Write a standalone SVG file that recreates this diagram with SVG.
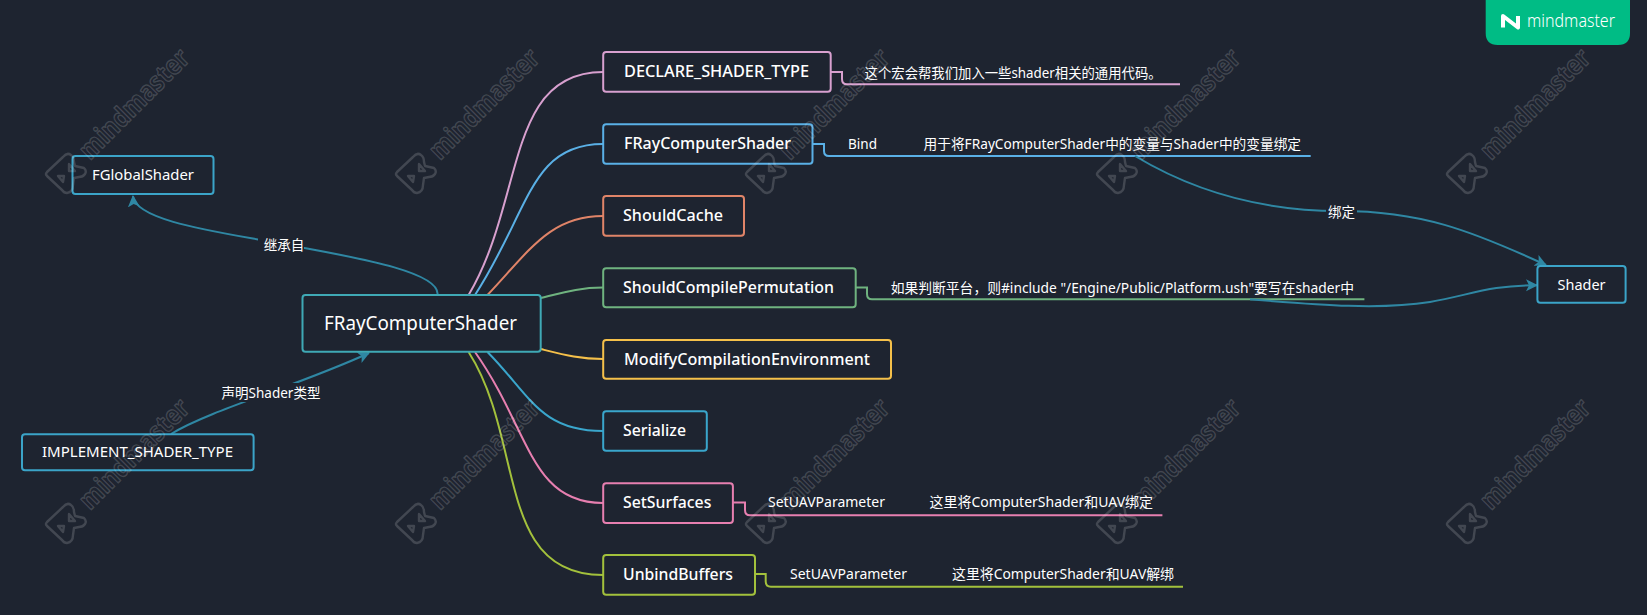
<svg xmlns="http://www.w3.org/2000/svg" width="1647" height="615" viewBox="0 0 1647 615">
<style>
text{font-family:"Noto Sans","Noto Sans CJK SC",sans-serif;fill:#fff;}
.n{fill:none;stroke-width:2}
.bl{font-size:16px;font-weight:500}
.main{font-size:20px}
.side{font-size:14px}
.sub{font-size:14px}
.lab{font-size:13.5px;text-anchor:middle}
.e{fill:none;stroke:#2f87a3;stroke-width:2}
.b{fill:none;stroke-width:2}
.wm text{font-size:27px;fill:none;stroke:#fff;stroke-width:1.5;stroke-opacity:.16;font-family:"Noto Sans",sans-serif;font-weight:700;stroke-linejoin:round}
.wm path{fill:none;stroke:#fff;stroke-width:2.400;stroke-opacity:.16;stroke-linejoin:round}
</style>
<defs>
<marker id="arr" markerUnits="userSpaceOnUse" markerWidth="14" markerHeight="14" refX="11" refY="6" orient="auto"><path d="M0 0L12 6L0 12L3 6Z" fill="#2f87a3"/></marker>
<g id="mark" class="wm">
<path d="M1 20 L17 5 Q21 0 25 3 Q28 5 28 10 L29 14 L38 16 Q41 19 39 22 Q37 25 33 25 L28 26 L27 33 Q27 40 21 41 Q18 41 16 38 L1 24 Q-1 22 1 20 Z"/>
<path d="M23 12L29 19L23 19Z M12 24L18 24L17 30Z"/>
<text transform="translate(44,9) rotate(-45)" textLength="143" lengthAdjust="spacingAndGlyphs">mindmaster</text>
</g>
</defs>
<rect width="1647" height="615" fill="#1e2430"/>
<g id="connectors">
<path class="b" stroke="#d8a0cf" d="M468.600 295C525 200 505 72 603 72"/>
<path class="b" stroke="#5ab0e6" d="M475 295C530 210 530 144 603 144"/>
<path class="b" stroke="#e08468" d="M487.500 295C530 250 550 216 603 216"/>
<path class="b" stroke="#6fb37f" d="M540.700 298C565 292 580 287.500 603 287.500"/>
<path class="b" stroke="#f5c04a" d="M540.700 349C565 355 580 359 603 359"/>
<path class="b" stroke="#3aa6cc" d="M487.500 352C530 395 540 431 603 431"/>
<path class="b" stroke="#e77fb0" d="M475 352C530 430 530 503 603 503"/>
<path class="b" stroke="#a3c13c" d="M468.600 352C525 440 495 575 603 575"/>
<path class="b" stroke="#d8a0cf" d="M830.700 72H842V79Q842 84.300 847 84.300H1180"/>
<path class="b" stroke="#5ab0e6" d="M812.500 144H824V151Q824 156 829 156H1310.700"/>
<path class="b" stroke="#6fb37f" d="M855.700 287.500H867V294Q867 299.300 872 299.300H1364.400"/>
<path class="b" stroke="#e77fb0" d="M733 502.500H745V510Q745 515.300 750 515.300H1162.400"/>
<path class="b" stroke="#a3c13c" d="M755 574H765.700V581.500Q765.700 586.700 771 586.700H1183"/>
<path class="e" marker-end="url(#arr)" d="M437.500 295C441 270 340 255 283 244C226 233 135 222 133 196"/>
<path class="e" marker-end="url(#arr)" d="M171 434C210 410 300 385 369 353"/>
<path class="e" marker-end="url(#arr)" d="M1135 156C1200 195 1270 211 1340 211C1420 211 1470 230 1546 265"/>
<path class="e" marker-end="url(#arr)" d="M1250 299.300C1320 305 1380 310 1430 302C1470 295 1490 285 1537 285.300"/>
</g>
<g id="edge-labels">
<rect x="258" y="236" width="46" height="18" fill="#1e2430"/><text class="lab" x="284" y="250">继承自</text>
<rect x="221" y="383" width="100" height="19" fill="#1e2430"/><text class="lab" x="271" y="398">声明Shader类型</text>
<rect x="1326" y="202" width="31" height="18" fill="#1e2430"/><text class="lab" x="1341.500" y="217">绑定</text>
</g>
<g id="n-root"><rect class="n" x="302.500" y="295" width="238.200" height="56.700" rx="3" stroke="#3fa9b5"/><text class="main" x="324" y="330" textLength="193" lengthAdjust="spacingAndGlyphs">FRayComputerShader</text></g>
<g id="n-global"><rect class="n" x="72.500" y="156" width="141" height="38" rx="3" stroke="#3ba4c8"/><text class="side" x="92" y="180" textLength="102" lengthAdjust="spacingAndGlyphs">FGlobalShader</text></g>
<g id="n-impl"><rect class="n" x="22" y="434.300" width="231.600" height="36" rx="3" stroke="#3ba4c8"/><text class="side" x="42" y="457" textLength="191" lengthAdjust="spacingAndGlyphs">IMPLEMENT_SHADER_TYPE</text></g>
<g id="n-shader"><rect class="n" x="1537.400" y="266" width="88.200" height="36.700" rx="3" stroke="#3ba4c8"/><text class="side" x="1557.600" y="290" textLength="48" lengthAdjust="spacingAndGlyphs">Shader</text></g>
<g id="n-declare"><rect class="n" x="603.200" y="52" width="227.500" height="39.700" rx="3" stroke="#d8a0cf"/><text class="bl" x="624" y="77.300" textLength="185" lengthAdjust="spacingAndGlyphs">DECLARE_SHADER_TYPE</text></g>
<g id="n-fray"><rect class="n" x="603.200" y="124.300" width="209.300" height="39.400" rx="3" stroke="#5ab0e6"/><text class="bl" x="624" y="149" textLength="167" lengthAdjust="spacingAndGlyphs">FRayComputerShader</text></g>
<g id="n-cache"><rect class="n" x="603.200" y="196" width="140.800" height="39.700" rx="3" stroke="#e08468"/><text class="bl" x="623" y="221.300" textLength="100" lengthAdjust="spacingAndGlyphs">ShouldCache</text></g>
<g id="n-compile"><rect class="n" x="603.200" y="268.300" width="252.500" height="39" rx="3" stroke="#6fb37f"/><text class="bl" x="623" y="293.300" textLength="211" lengthAdjust="spacingAndGlyphs">ShouldCompilePermutation</text></g>
<g id="n-modify"><rect class="n" x="603.200" y="340" width="287.800" height="38.700" rx="3" stroke="#f5c04a"/><text class="bl" x="624" y="365" textLength="246" lengthAdjust="spacingAndGlyphs">ModifyCompilationEnvironment</text></g>
<g id="n-serialize"><rect class="n" x="603.200" y="411.300" width="103.600" height="39.400" rx="3" stroke="#3aa6cc"/><text class="bl" x="623" y="436" textLength="63" lengthAdjust="spacingAndGlyphs">Serialize</text></g>
<g id="n-surfaces"><rect class="n" x="603.200" y="483.300" width="129.700" height="39.700" rx="3" stroke="#e77fb0"/><text class="bl" x="623" y="508" textLength="88.400" lengthAdjust="spacingAndGlyphs">SetSurfaces</text></g>
<g id="n-unbind"><rect class="n" x="603.200" y="555" width="151.800" height="39.700" rx="3" stroke="#a3c13c"/><text class="bl" x="623" y="580" textLength="110" lengthAdjust="spacingAndGlyphs">UnbindBuffers</text></g>
<g id="subtopics">
<text class="sub" x="864.600" y="77.700" textLength="297" lengthAdjust="spacingAndGlyphs">这个宏会帮我们加入一些shader相关的通用代码。</text>
<text class="sub" x="848" y="148.500" textLength="29" lengthAdjust="spacingAndGlyphs">Bind</text>
<text class="sub" x="923.600" y="148.500" textLength="377.400" lengthAdjust="spacingAndGlyphs">用于将FRayComputerShader中的变量与Shader中的变量绑定</text>
<text class="sub" x="890.700" y="292.500" textLength="463.300" lengthAdjust="spacingAndGlyphs">如果判断平台，则#include "/Engine/Public/Platform.ush"要写在shader中</text>
<text class="sub" x="768" y="507" textLength="117" lengthAdjust="spacingAndGlyphs">SetUAVParameter</text>
<text class="sub" x="929.600" y="507" textLength="223.400" lengthAdjust="spacingAndGlyphs">这里将ComputerShader和UAV绑定</text>
<text class="sub" x="790" y="579" textLength="117" lengthAdjust="spacingAndGlyphs">SetUAVParameter</text>
<text class="sub" x="952" y="579" textLength="222" lengthAdjust="spacingAndGlyphs">这里将ComputerShader和UAV解绑</text>
</g>
<g id="watermarks">
<use href="#mark" x="46" y="152"/><use href="#mark" x="396" y="152"/><use href="#mark" x="746" y="152"/><use href="#mark" x="1097" y="152"/><use href="#mark" x="1447" y="152"/>
<use href="#mark" x="46" y="502"/><use href="#mark" x="396" y="502"/><use href="#mark" x="746" y="502"/><use href="#mark" x="1097" y="502"/><use href="#mark" x="1447" y="502"/>
</g>
<g id="badge">
<path d="M1485.700 0H1630V33Q1630 45 1618 45H1497.700Q1485.700 45 1485.700 33Z" fill="#00bc85"/>
<path d="M1503 27.500V16L1518 27.500V16" fill="none" stroke="#fff" stroke-width="4" stroke-linejoin="round"/>
<text x="1527" y="27" font-size="18" textLength="88" lengthAdjust="spacingAndGlyphs" style="font-weight:300">mindmaster</text>
</g>
</svg>
